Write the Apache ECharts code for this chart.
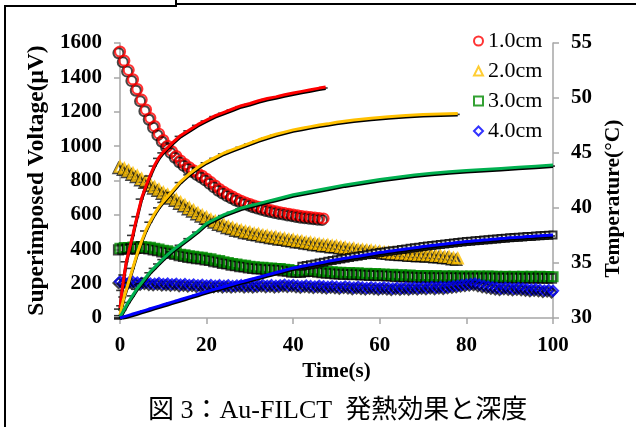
<!DOCTYPE html>
<html><head><meta charset="utf-8">
<script src="https://cdn.jsdelivr.net/npm/echarts@6/dist/echarts.min.js"></script>
<style>html,body{margin:0;padding:0;background:#fff}#c{width:636px;height:427px}</style>
</head><body><div id="c"></div>
<script>
// Superimposed voltage (µV), one value per second starting at t = 0
const v10 = [1550,1497,1443,1388,1332,1270,1212,1163,1116,1072,1035,1002,970,942,916,895,876,859,842,827,810,790,770,750,734,719,706,693,682,672,663,654,646,639,632,626,620,615,611,606,602,597,593,590,587,584,581,579];
const v20 = [880,870,858,842,828,810,795,778,762,748,731,718,703,690,673,658,641,627,611,598,586,573,563,551,543,532,526,516,511,503,499,492,489,482,479,473,471,465,463,457,455,449,447,441,439,433,431,426,425,420,419,413,411,405,404,399,398,394,393,388,387,383,382,378,378,374,374,370,370,367,368,365,366,362,362,357,356,350,347];
const v30 = [405,409,410,413,414,416,413,411,405,401,394,391,384,379,371,367,361,359,354,353,347,344,337,334,326,323,316,314,308,306,300,298,294,294,290,291,288,288,283,281,276,275,274,279,280,280,275,273,269,269,265,266,263,264,261,262,259,260,257,258,255,256,253,254,250,251,248,249,246,247,245,246,244,246,243,245,243,245,243,244,242,244,242,244,242,244,242,243,241,243,241,243,241,242,240,242,240,242,240,241,240];
const v40 = [212,208,205,210,206,203,207,201,199,203,198,200,196,199,194,197,192,195,190,193,189,192,188,191,187,190,186,189,191,187,190,186,189,192,188,191,187,190,193,189,192,188,185,189,186,183,187,184,181,185,182,179,183,180,177,181,178,175,179,176,174,178,175,172,176,173,177,174,178,175,179,176,180,177,181,178,182,185,188,192,195,198,200,194,188,183,179,175,172,176,173,170,174,171,168,165,168,164,160,163,158];
// Temperature (°C) as [time s, value]
const t10 = [[0,30.9],[0.5,32.6],[1,34.0],[1.5,35.2],[2,36.0],[2.5,36.8],[3,37.6],[3.5,38.5],[4,39.3],[5,40.9],[6,42.0],[7,43.0],[8,43.9],[9,44.6],[10,45.1],[11,45.5],[12,45.9],[14,46.6],[16,47.1],[18,47.6],[20,48.0],[22,48.4],[24,48.7],[26,49.0],[28,49.3],[30,49.5],[32,49.75],[34,49.95],[36,50.1],[38,50.3],[40,50.45],[42,50.6],[44,50.75],[46,50.9],[47.5,51.0]];
const t20 = [[0,30.3],[0.5,31.2],[1,32.0],[2,33.3],[3,34.6],[4,35.9],[5,37.0],[6,38.0],[7,38.8],[8,39.5],[9,40.1],[10,40.6],[12,41.5],[14,42.4],[16,43.1],[18,43.7],[20,44.2],[22,44.6],[24,45.0],[26,45.3],[28,45.6],[30,45.9],[32,46.2],[34,46.45],[36,46.7],[38,46.9],[40,47.1],[42,47.25],[44,47.4],[46,47.55],[48,47.65],[50,47.8],[54,48.0],[58,48.15],[62,48.3],[66,48.4],[70,48.5],[74,48.55],[78,48.6]];
const t30 = [[0,30.1],[1,30.8],[2,31.5],[3,32.1],[4,32.7],[5,33.2],[6,33.7],[7,34.2],[8,34.6],[9,35.0],[10,35.4],[12,36.1],[14,36.7],[16,37.3],[18,37.9],[20,38.6],[22,39.0],[24,39.4],[26,39.7],[28,40.0],[30,40.2],[32,40.4],[34,40.6],[36,40.8],[38,41.0],[40,41.2],[44,41.5],[48,41.8],[52,42.1],[56,42.35],[60,42.6],[64,42.8],[68,43.0],[72,43.15],[76,43.3],[80,43.4],[84,43.5],[88,43.6],[92,43.7],[96,43.8],[100,43.9]];
// 4.0cm temperature, one value per second from t = 0
const t40 = [30.00,30.12,30.24,30.36,30.48,30.60,30.72,30.84,30.96,31.08,31.20,31.32,31.44,31.56,31.68,31.80,31.92,32.04,32.16,32.28,32.40,32.51,32.62,32.73,32.84,32.95,33.06,33.17,33.28,33.39,33.50,33.60,33.71,33.81,33.92,34.02,34.13,34.23,34.34,34.44,34.55,34.62,34.70,34.77,34.85,34.92,35.00,35.07,35.15,35.22,35.30,35.36,35.43,35.49,35.56,35.62,35.69,35.75,35.82,35.88,35.95,36.00,36.06,36.11,36.17,36.22,36.28,36.33,36.39,36.44,36.50,36.54,36.59,36.63,36.68,36.72,36.77,36.81,36.86,36.90,36.95,36.98,37.02,37.05,37.09,37.12,37.16,37.19,37.23,37.26,37.30,37.32,37.35,37.37,37.40,37.42,37.45,37.47,37.50,37.52,37.55];
const names = ['1.0cm','2.0cm','3.0cm','4.0cm'];
const xTicks = [0,20,40,60,80,100];

const chart = echarts.init(document.getElementById('c'), null, {renderer:'canvas'});
const serif = '"Liberation Serif","Times New Roman",serif';
const toPairs = a => a.map((v,i)=>[i,v]);
const t40p = toPairs(t40);
function markers(name, data, sym, color, size){
  return {name, type:'scatter', yAxisIndex:0, data:toPairs(data), symbol:sym, symbolSize:size,
    itemStyle:{color:'rgba(255,255,255,0)', borderColor:color, borderWidth:2.2, shadowColor:'rgba(0,0,0,0.9)', shadowBlur:0.5, shadowOffsetX:-1.5, shadowOffsetY:1.5},
    emphasis:{disabled:true}, z:2, silent:true};
}
function dashes(data){
  return {type:'scatter', yAxisIndex:1, data, symbol:'rect', symbolSize:[8,1.6], symbolOffset:[-2,1],
    itemStyle:{color:'#000'}, z:3, silent:true};
}
function line(data, color){
  return {type:'line', yAxisIndex:1, data, showSymbol:false, symbol:'none', smooth:false,
    lineStyle:{color, width:3, shadowColor:'#000', shadowBlur:0.5, shadowOffsetX:0, shadowOffsetY:1.5}, z:5, silent:true};
}
const axisLbl = {color:'#000', fontFamily:serif, fontWeight:'bold', fontSize:21};
const axLine = {show:true, lineStyle:{color:'#a6a6a6', width:1.5}};
const axTick = {show:true, inside:false, length:6, lineStyle:{color:'#a6a6a6', width:1.5}};
const nameStyle = {color:'#000', fontFamily:serif, fontWeight:'bold', fontSize:21};

chart.setOption({
  animation:false,
  backgroundColor:'#fff',
  grid:{left:120, right:83, top:43, bottom:109, containLabel:false},
  legend:{data:names, orient:'vertical', left:468, top:25, itemWidth:9, itemHeight:9, itemGap:8,
    textStyle:{color:'#000', fontFamily:serif, fontSize:22}},
  xAxis:{type:'value', min:0, max:100, interval:20, axisLine:axLine, axisTick:axTick,
    splitLine:{show:false}, axisLabel:Object.assign({margin:17, formatter:v=>xTicks.includes(v)?String(v):''}, axisLbl),
    name:'Time(s)', nameLocation:'middle', nameGap:33, nameTextStyle:nameStyle},
  yAxis:[
    {type:'value', min:0, max:1600, interval:200, position:'left', axisLine:axLine, axisTick:axTick,
     splitLine:{show:false}, axisLabel:Object.assign({margin:18, formatter:v=>String(v)}, axisLbl),
     name:'Superimposed Voltage(μV)', nameLocation:'middle', nameGap:67, nameRotate:90,
     nameTextStyle:Object.assign({}, nameStyle, {fontSize:23.5})},
    {type:'value', min:30, max:55, interval:5, position:'right', axisLine:axLine, axisTick:axTick,
     splitLine:{show:false}, axisLabel:Object.assign({margin:18, formatter:v=>String(v)}, axisLbl),
     name:'Temperature(°C)', nameLocation:'middle', nameGap:46, nameRotate:90,
     nameTextStyle:Object.assign({}, nameStyle, {fontSize:21.5, padding:[0,36,0,0]})}
  ],
  series:[
    markers(names[0], v10, 'circle', '#ff0000', 10),
    markers(names[1], v20, 'triangle', '#ffc000', 10),
    markers(names[2], v30, 'rect', '#008a00', 9),
    markers(names[3], v40, 'diamond', '#0000ff', 10),
    {type:'scatter', yAxisIndex:1, data:t40p.filter(p=>p[0]>=42), symbol:'emptyRect', symbolSize:7,
     itemStyle:{color:'#000', borderWidth:1.5}, z:3, silent:true},
    dashes(t10), dashes(t20), dashes(t30), dashes(t40p.filter((p,i)=>i%2===0)),
    line(t10, '#ff0000'), line(t20, '#ffc000'), line(t30, '#00b050'), line(t40p, '#0000ff')
  ],
  graphic:[
    {type:'polyline', shape:{points:[[5,427],[5,6],[176,6],[176,0]]}, style:{stroke:'#000', lineWidth:2, fill:null}},
    {type:'line', shape:{x1:176, y1:4, x2:636, y2:4}, style:{stroke:'#000', lineWidth:2}},
    {type:'text', left:148, top:398, style:{text:'図 3：Au-FILCT  発熱効果と深度', fill:'#000',
      font:'26px "Liberation Serif","Noto Sans CJK JP",serif'}}
  ]
});
</script></body></html>
